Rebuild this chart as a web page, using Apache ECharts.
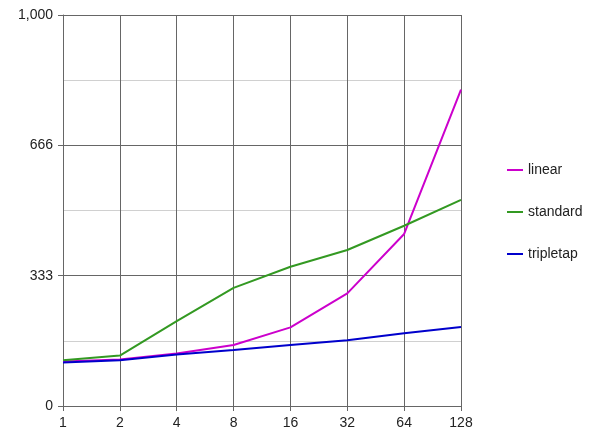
<!DOCTYPE html>
<html><head><meta charset="utf-8">
<script src="https://cdn.jsdelivr.net/npm/echarts@6/dist/echarts.min.js"></script>
<style>html,body{margin:0;padding:0;background:#fff}#c{width:594px;height:447px}</style>
</head><body><div id="c"></div>
<script>
const categories = ['1','2','4','8','16','32','64','128'];
const linear = [114, 119, 134, 156, 201, 288, 440, 809];
const standard = [117, 129, 217, 302, 356, 399, 461, 527];
const tripletap = [111, 117, 132, 143, 156, 168, 186, 202];
const seriesNames = ['linear', 'standard', 'tripletap'];
const colors = ['#cc00cc', '#339922', '#0000cc'];

const chart = echarts.init(document.getElementById('c'));
const font = 'Liberation Sans, Arial, sans-serif';
chart.setOption({
  animation: false,
  color: colors,
  grid: { left: 63, right: 133, top: 15, bottom: 41 },
  legend: {
    orient: 'vertical', left: 502, top: 158,
    itemWidth: 16, itemHeight: 2, itemGap: 28,
    icon: 'rect',
    textStyle: { fontFamily: font, fontSize: 14, color: '#222' },
    data: seriesNames
  },
  xAxis: {
    type: 'category', data: categories, boundaryGap: false,
    axisLine: { lineStyle: { color: '#666', width: 1 } },
    axisTick: { show: true, length: 5, lineStyle: { color: '#666' } },
    axisLabel: { fontFamily: font, fontSize: 14, color: '#222', margin: 10 },
    splitLine: { show: true, lineStyle: { color: '#666', width: 1 } }
  },
  yAxis: {
    type: 'value', min: 0, max: 1000, interval: 1000/3,
    axisLine: { show: true, lineStyle: { color: '#666', width: 1 } },
    axisTick: { show: true, length: 5, lineStyle: { color: '#666' } },
    axisLabel: { fontFamily: font, fontSize: 14, color: '#222', margin: 10,
      formatter: v => Math.floor(v + 1e-6).toLocaleString('en-US') },
    splitLine: { show: true, lineStyle: { color: '#666', width: 1 } },
    minorTick: { show: false, splitNumber: 2 },
    minorSplitLine: { show: true, lineStyle: { color: '#d0d0d0', width: 1 } }
  },
  series: [
    { name: seriesNames[0], type: 'line', data: linear, symbol: 'none', lineStyle: { width: 2 } },
    { name: seriesNames[1], type: 'line', data: standard, symbol: 'none', lineStyle: { width: 2 } },
    { name: seriesNames[2], type: 'line', data: tripletap, symbol: 'none', lineStyle: { width: 2 } }
  ]
});
</script></body></html>
